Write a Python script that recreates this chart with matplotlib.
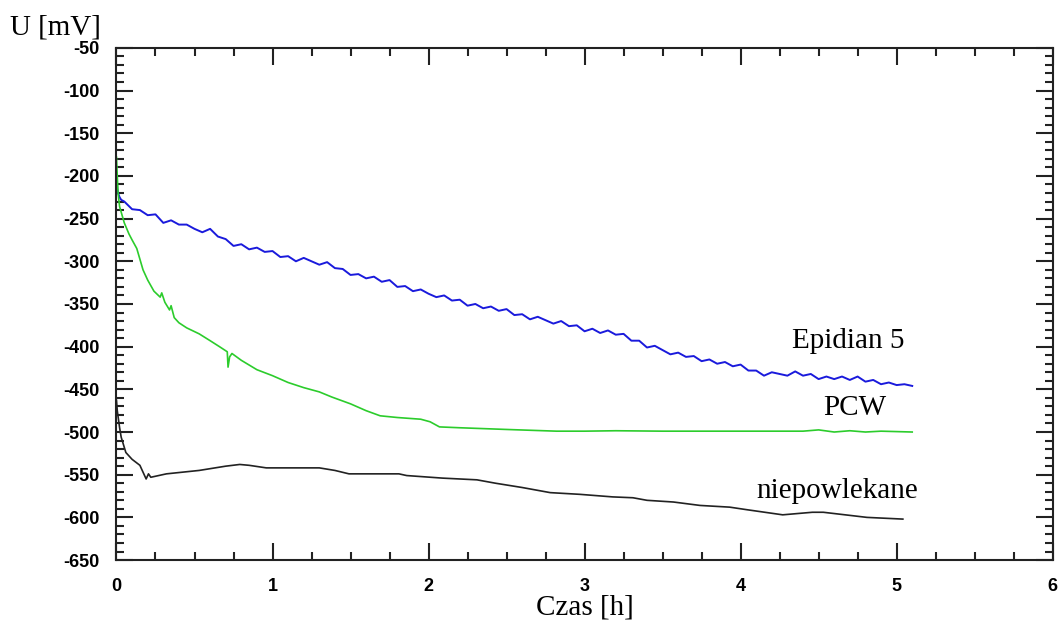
import numpy as np
import matplotlib
matplotlib.use("Agg")
import matplotlib.pyplot as plt
from matplotlib.ticker import MultipleLocator

plt.rcParams['axes.unicode_minus'] = False

# Epidian 5 (blue)
t_epi = [0, 0.005, 0.01, 0.02, 0.03] + list(np.round(np.arange(0.05, 5.101, 0.05), 2))
u_epi = [-197, -215, -220, -225, -228,
         -230, -239, -240, -246, -245, -255, -252, -257, -257, -262,
         -266, -262, -271, -274, -282, -280, -286, -284, -289, -288,
         -295, -294, -300, -296, -300, -304, -301, -308, -309, -316,
         -315, -320, -318, -324, -322, -330, -329, -335, -333, -338,
         -342, -340, -346, -345, -352, -350, -355, -353, -358, -356,
         -363, -362, -368, -365, -369, -373, -370, -376, -375, -382,
         -379, -384, -381, -386, -385, -393, -393, -401, -399, -404,
         -409, -407, -412, -411, -417, -415, -420, -418, -423, -421,
         -428, -428, -434, -430, -432, -434, -429, -434, -432, -438,
         -435, -438, -435, -439, -435, -441, -439, -444, -442, -445,
         -444, -446]

# PCW (green)
t_pcw = [0.0, 0.005, 0.01, 0.02, 0.05, 0.08, 0.10, 0.13, 0.17, 0.20, 0.24, 0.28,
         0.29, 0.31, 0.34, 0.35, 0.37, 0.40, 0.45, 0.53, 0.60, 0.66, 0.71, 0.715,
         0.725, 0.74, 0.80, 0.90, 1.00, 1.10, 1.20, 1.30, 1.38, 1.50, 1.60, 1.69,
         1.80, 1.95, 2.01, 2.07, 2.20, 2.50, 2.82, 3.00, 3.20, 3.50, 4.00, 4.40,
         4.50, 4.60, 4.70, 4.80, 4.90, 5.10]
u_pcw = [-178, -200, -220, -236, -255, -268, -275, -285, -310, -322, -335, -342,
         -337, -348, -357, -352, -366, -372, -378, -385, -393, -400, -406, -424,
         -412, -408, -416, -427, -434, -442, -448, -453, -459, -467, -475, -481,
         -483, -485, -488, -494, -495, -497, -499, -499, -498.5, -499, -499, -499,
         -497.5, -500, -498.5, -500, -499, -500]

# niepowlekane (black)
t_bare = [0.0, 0.005, 0.02, 0.03, 0.06, 0.10, 0.15, 0.19, 0.205, 0.22, 0.32, 0.53,
          0.70, 0.79, 0.85, 0.96, 1.30, 1.40, 1.49, 1.81, 1.86, 2.09, 2.31, 2.43,
          2.60, 2.78, 2.97, 3.18, 3.31, 3.40, 3.57, 3.74, 3.93, 4.04, 4.27, 4.46,
          4.53, 4.81, 5.04]
u_bare = [-463, -475, -495, -506, -524, -532, -539, -555, -549, -553, -549, -545,
          -540, -538, -539, -542, -542, -545, -549, -549, -551, -554, -556, -560,
          -565, -571, -573, -576, -577, -580, -582, -586, -588, -591, -597, -594,
          -594, -600, -602]

labels = ['Epidian 5', 'PCW', 'niepowlekane']
label_pos = [(4.69, -393), (4.73, -472), (4.62, -569)]

fig = plt.figure(figsize=(10.59, 6.30), dpi=100)
ax = fig.add_axes([0.110, 0.111, 0.884, 0.813])

ax.plot(t_epi, u_epi, color='#1a1adc', lw=1.4)
ax.plot(t_pcw, u_pcw, color='#2ccc2c', lw=1.2)
ax.plot(t_bare, u_bare, color='#222222', lw=1.2)

for txt, (x, y) in zip(labels, label_pos):
    ax.text(x, y, txt, ha='center', va='center', fontsize=21, family='Liberation Serif')

ax.set_xlim(0, 6)
ax.set_ylim(-650, -50)
ax.xaxis.set_major_locator(MultipleLocator(1))
ax.xaxis.set_minor_locator(MultipleLocator(0.25))
ax.yaxis.set_major_locator(MultipleLocator(50))
ax.yaxis.set_minor_locator(MultipleLocator(10))
ax.tick_params(which='both', direction='in', top=True, right=True, width=1.5, color='#222222')
ax.tick_params(which='major', length=12)
ax.tick_params(which='minor', length=6)
ax.tick_params(axis='y', which='major', pad=12)
ax.tick_params(axis='x', which='major', pad=13)
for s in ax.spines.values():
    s.set_linewidth(1.5)
    s.set_color('#222222')

for lab in ax.get_xticklabels() + ax.get_yticklabels():
    lab.set_family('Liberation Sans')
    lab.set_fontweight('bold')
    lab.set_fontsize(13)

fig.text(0.009, 0.956, 'U [mV]', ha='left', va='center', fontsize=21, family='Liberation Serif')
fig.text(0.552, 0.036, 'Czas [h]', ha='center', va='center', fontsize=21, family='Liberation Serif')

fig.savefig('out.png', dpi=100)
